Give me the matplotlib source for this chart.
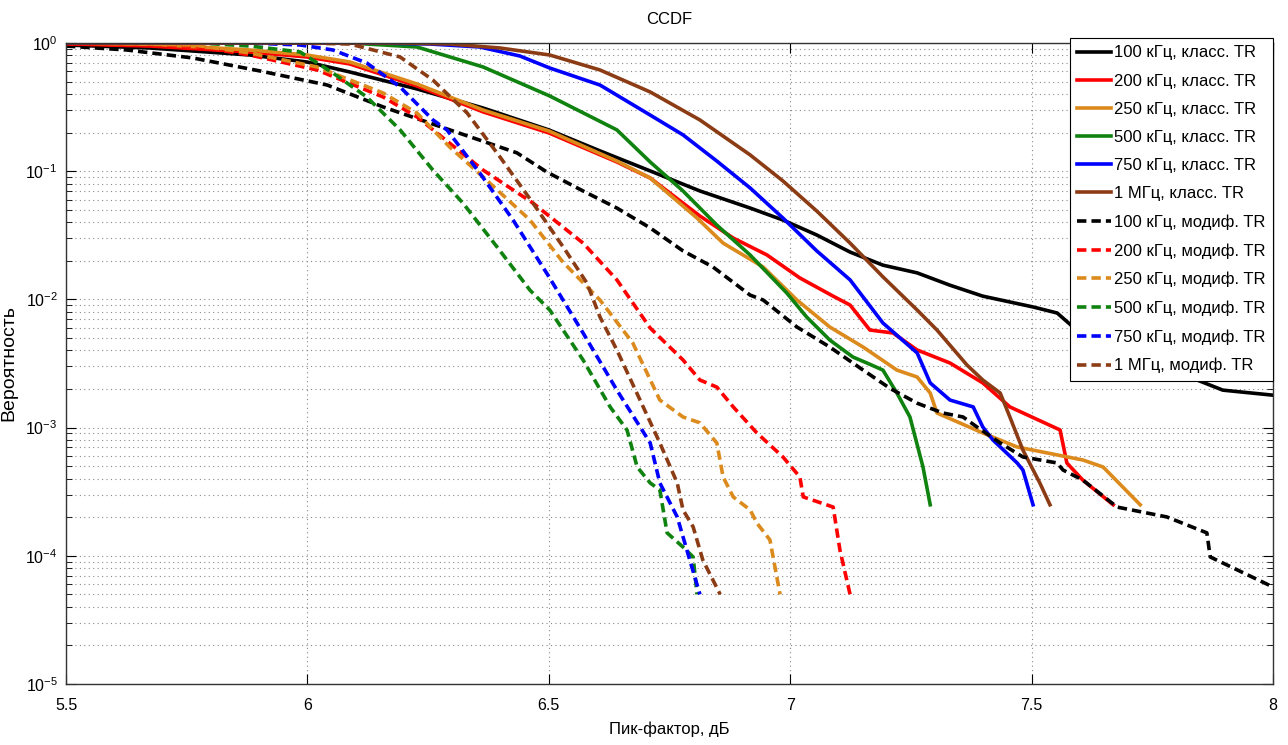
import numpy as np
import matplotlib
matplotlib.use("Agg")
import matplotlib.pyplot as plt
from matplotlib.ticker import LogLocator, NullFormatter, FixedLocator

plt.rcParams['font.family'] = ['Liberation Sans', 'DejaVu Sans']

# --- classic TR curves (peak factor, dB / probability) ---
x_100k = [5.5, 5.674, 5.881, 5.999, 6.088, 6.227, 6.364, 6.5, 6.606, 6.71, 6.813, 6.917, 6.985,
          7.055, 7.124, 7.192, 7.263, 7.331, 7.399, 7.503, 7.553, 7.586, 7.642, 7.745, 7.843, 7.896, 8.0]
p_100k = [0.965, 0.914, 0.806, 0.711, 0.594, 0.438, 0.311, 0.210, 0.144, 0.1005, 0.0701, 0.0516, 0.0416,
          0.0318, 0.0234, 0.0185, 0.0161, 0.0129, 0.0106, 0.00873, 0.00783, 0.00609, 0.00441, 0.00308,
          0.00235, 0.00196, 0.00179]

x_200k = [5.5, 5.674, 5.881, 5.999, 6.088, 6.227, 6.364, 6.5, 6.641, 6.71, 6.813, 6.882, 6.952, 7.02,
          7.089, 7.124, 7.165, 7.213, 7.263, 7.331, 7.399, 7.455, 7.559, 7.573, 7.606, 7.669]
p_200k = [0.982, 0.947, 0.851, 0.778, 0.686, 0.462, 0.290, 0.199, 0.118, 0.0885, 0.0447, 0.0301, 0.0222,
          0.0147, 0.0106, 0.00904, 0.00577, 0.00547, 0.00403, 0.00319, 0.00223, 0.00145, 0.000958,
          0.000530, 0.000390, 0.00025]

x_250k = [5.5, 5.674, 5.881, 5.999, 6.088, 6.227, 6.364, 6.5, 6.641, 6.71, 6.807, 6.861, 6.944, 7.014,
          7.082, 7.151, 7.221, 7.263, 7.29, 7.304, 7.399, 7.47, 7.606, 7.648, 7.725]
p_250k = [1.0, 0.982, 0.882, 0.806, 0.711, 0.479, 0.300, 0.206, 0.120, 0.0885, 0.0431, 0.0275, 0.0179,
          0.00989, 0.00609, 0.00425, 0.00281, 0.00248, 0.00186, 0.00130, 0.000908, 0.000706, 0.000559,
          0.000493, 0.00025]

x_500k = [5.5, 6.088, 6.227, 6.364, 6.502, 6.641, 6.71, 6.778, 6.848, 6.917, 6.993, 7.034, 7.082, 7.13,
          7.159, 7.192, 7.221, 7.248, 7.275, 7.29]
p_500k = [1.0, 1.0, 0.931, 0.650, 0.386, 0.210, 0.118, 0.0701, 0.0380, 0.0222, 0.0112, 0.00729, 0.00482,
          0.00355, 0.00319, 0.00281, 0.00186, 0.00121, 0.000493, 0.00025]

x_750k = [5.5, 6.15, 6.254, 6.357, 6.44, 6.502, 6.606, 6.71, 6.778, 6.848, 6.917, 6.985, 7.055, 7.124,
          7.192, 7.263, 7.29, 7.331, 7.379, 7.399, 7.42, 7.47, 7.482, 7.503]
p_750k = [1.0, 1.0, 0.982, 0.931, 0.792, 0.638, 0.470, 0.274, 0.192, 0.120, 0.0740, 0.0431, 0.0239,
          0.0142, 0.00655, 0.00382, 0.00223, 0.00164, 0.00145, 0.00101, 0.000800, 0.000530, 0.000467,
          0.00025]

x_1m = [5.5, 6.192, 6.295, 6.399, 6.502, 6.606, 6.71, 6.813, 6.917, 6.985, 7.055, 7.124, 7.192, 7.263,
        7.304, 7.366, 7.399, 7.435, 7.455, 7.482, 7.517, 7.538]
p_1m = [1.0, 1.0, 0.982, 0.914, 0.806, 0.616, 0.415, 0.251, 0.134, 0.0839, 0.0489, 0.0275, 0.0150,
        0.00826, 0.00577, 0.00308, 0.00235, 0.00186, 0.00121, 0.000668, 0.000370, 0.00025]

# --- modified TR curves ---
xm_100k = [5.5, 5.626, 5.763, 5.902, 6.041, 6.157, 6.295, 6.434, 6.496, 6.571, 6.641, 6.71, 6.778, 6.84,
           6.917, 6.944, 7.014, 7.082, 7.151, 7.207, 7.263, 7.316, 7.358, 7.387, 7.435, 7.482, 7.553,
           7.565, 7.606, 7.677, 7.78, 7.863, 7.87, 8.0]
pm_100k = [0.947, 0.882, 0.764, 0.605, 0.470, 0.317, 0.210, 0.139, 0.0985, 0.0701, 0.0516, 0.0361,
           0.0239, 0.0179, 0.0108, 0.00989, 0.00609, 0.00425, 0.00281, 0.00202, 0.00155, 0.00130,
           0.00121, 0.00101, 0.000759, 0.000590, 0.000530, 0.000467, 0.000390, 0.000240, 0.000201,
           0.000151, 0.0000979, 0.0000571]

xm_200k = [5.5, 5.763, 5.881, 6.02, 6.157, 6.227, 6.364, 6.467, 6.571, 6.641, 6.71, 6.778, 6.813, 6.848,
           6.882, 6.931, 6.985, 7.02, 7.027, 7.089, 7.103, 7.124]
pm_200k = [0.982, 0.947, 0.806, 0.616, 0.379, 0.265, 0.102, 0.0565, 0.0275, 0.0142, 0.00598, 0.00337,
           0.00235, 0.00207, 0.00145, 0.000908, 0.000590, 0.000412, 0.000288, 0.000240, 0.000111, 0.00005]

xm_250k = [5.5, 5.763, 5.881, 6.02, 6.157, 6.227, 6.295, 6.364, 6.461, 6.529, 6.606, 6.674, 6.73, 6.778,
           6.813, 6.848, 6.861, 6.882, 6.917, 6.931, 6.958, 6.979]
pm_250k = [1.0, 0.965, 0.836, 0.650, 0.407, 0.284, 0.154, 0.0901, 0.0416, 0.0196, 0.00989, 0.00457,
           0.00164, 0.00121, 0.00109, 0.000759, 0.000412, 0.000288, 0.000228, 0.000180, 0.000133, 0.00005]

xm_500k = [5.5, 5.776, 5.881, 5.985, 6.053, 6.123, 6.192, 6.26, 6.322, 6.393, 6.461, 6.502, 6.571, 6.627,
           6.662, 6.683, 6.71, 6.73, 6.745, 6.778, 6.799, 6.807]
pm_500k = [1.0, 1.0, 0.947, 0.851, 0.583, 0.379, 0.210, 0.102, 0.0565, 0.0256, 0.0118, 0.00826, 0.00337,
           0.00145, 0.000958, 0.000493, 0.000370, 0.000326, 0.000151, 0.000117, 0.0000979, 0.00005]

xm_750k = [5.5, 5.881, 5.985, 6.053, 6.123, 6.192, 6.26, 6.289, 6.357, 6.426, 6.498, 6.571, 6.641, 6.71,
           6.73, 6.766, 6.792, 6.813]
pm_750k = [1.0, 1.0, 0.965, 0.882, 0.698, 0.454, 0.251, 0.210, 0.0968, 0.0416, 0.0155, 0.00547, 0.00196,
           0.000759, 0.000370, 0.000201, 0.0000927, 0.00005]

xm_1m = [5.5, 5.985, 6.088, 6.192, 6.26, 6.331, 6.399, 6.467, 6.534, 6.579, 6.606, 6.641, 6.689, 6.73,
         6.766, 6.778, 6.799, 6.819, 6.855]
pm_1m = [1.0, 1.0, 0.982, 0.778, 0.514, 0.284, 0.129, 0.0565, 0.0243, 0.0134, 0.00729, 0.00403, 0.00164,
         0.000759, 0.000370, 0.000228, 0.000168, 0.0000927, 0.00005]

freqs = ['100 кГц', '200 кГц', '250 кГц', '500 кГц', '750 кГц', '1 МГц']
colors = ['#000000', '#ff0000', '#dc8a1c', '#0f820f', '#0000ff', '#8c3c14']

classic = [(x_100k, p_100k), (x_200k, p_200k), (x_250k, p_250k),
           (x_500k, p_500k), (x_750k, p_750k), (x_1m, p_1m)]
modified = [(xm_100k, pm_100k), (xm_200k, pm_200k), (xm_250k, pm_250k),
            (xm_500k, pm_500k), (xm_750k, pm_750k), (xm_1m, pm_1m)]

fig = plt.figure(figsize=(12.88, 7.45), dpi=100)
ax = fig.add_axes([66 / 1288, 1 - 684 / 745, (1273 - 66) / 1288, (684 - 43) / 745])

for (x, p), c, f in zip(classic, colors, freqs):
    ax.semilogy(x, p, '-', color=c, lw=2.6, label=f + ', класс. TR')
for (x, p), c, f in zip(modified, colors, freqs):
    ax.semilogy(x, p, '--', color=c, lw=2.6, dashes=(2.6, 1.4), label=f + ', модиф. TR')

ax.set_xlim(5.5, 8)
ax.set_ylim(1e-5, 1)
ax.xaxis.set_major_locator(FixedLocator([5.5, 6, 6.5, 7, 7.5, 8]))
ax.set_xticklabels(['5.5', '6', '6.5', '7', '7.5', '8'])
ax.yaxis.set_major_locator(LogLocator(base=10, numticks=10))
ax.yaxis.set_minor_locator(LogLocator(base=10, subs=np.arange(2, 10), numticks=20))
ax.yaxis.set_minor_formatter(NullFormatter())

grid_style = dict(linestyle=(0, (1, 3)), color='#8a8a8a', lw=0.8)
ax.grid(True, which='major', axis='both', **grid_style)
ax.grid(True, which='minor', axis='y', **grid_style)
ax.tick_params(which='both', direction='in', top=True, right=True, labelsize=11.5)
ax.tick_params(which='major', length=7)
ax.tick_params(which='minor', length=4)
ax.tick_params(axis='x', pad=10)
ax.tick_params(axis='y', pad=6)
for s in ax.spines.values():
    s.set_linewidth(1.0)
    s.set_color('#333333')

ax.set_title('CCDF', fontsize=12, pad=14)
ax.set_xlabel('Пик-фактор, дБ', fontsize=12, labelpad=6)
ax.set_ylabel('Вероятность', fontsize=14, labelpad=6)

leg = ax.legend(loc='upper right', bbox_to_anchor=(1.0, 1.0 + 5 / 641), fontsize=12,
                fancybox=False, framealpha=1, edgecolor='black', borderaxespad=0.0,
                labelspacing=0.79, handlelength=2.0, handletextpad=0.2, borderpad=0.45)
leg.get_frame().set_linewidth(0.8)

fig.savefig('out.png', dpi=100)
